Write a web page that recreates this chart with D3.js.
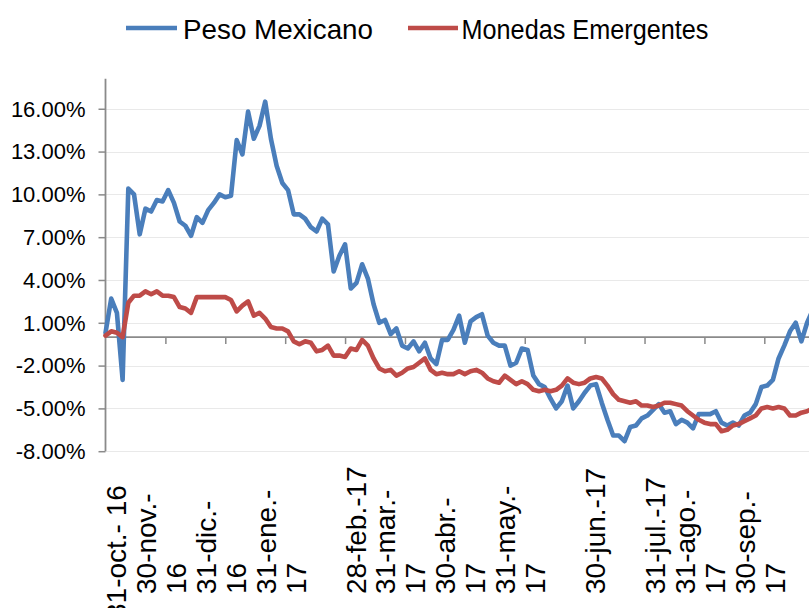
<!DOCTYPE html>
<html><head><meta charset="utf-8">
<script src="https://cdn.jsdelivr.net/npm/d3@7"></script>
<style>
body{margin:0;background:#fff}
svg{display:block}
text{font-family:"Liberation Sans",Arial,Helvetica,sans-serif;fill:#000}
</style>
</head><body>
<svg id="chart" width="809" height="608"></svg>
<script>
// ---- data (values in %, one value every 2 trading days starting 31-oct-16) ----
const seriesNames = ["Peso Mexicano", "Monedas Emergentes"];
const seriesColors = ["#4A7EBB", "#BE4B48"];
const dayStep = 2;
const pesoMexicano = [
  0.3, 2.7, 1.7, -3.0, 10.4, 10.0, 7.2, 9.0, 8.8, 9.6,
  9.5, 10.3, 9.4, 8.1, 7.8, 7.1, 8.4, 8.0, 8.9, 9.4,
  10.0, 9.8, 9.9, 13.8, 12.8, 15.8, 13.9, 14.8, 16.5, 13.9,
  12.0, 10.8, 10.3, 8.6, 8.6, 8.3, 7.7, 7.4, 8.3, 7.9,
  4.6, 5.7, 6.5, 3.4, 3.8, 5.1, 4.1, 2.3, 1.0, 1.2,
  0.2, 0.6, -0.6, -0.8, -0.3, -1.0, -0.4, -1.5, -1.9, -0.2,
  -0.2, 0.5, 1.5, -0.4, 1.1, 1.4, 1.6, 0.1, -0.4, -0.6,
  -0.6, -2.0, -1.8, -0.8, -0.9, -2.7, -3.3, -3.5, -4.3, -5.0,
  -4.5, -3.4, -5.0, -4.5, -3.9, -3.4, -3.3, -4.6, -5.8, -6.9,
  -6.9, -7.3, -6.3, -6.2, -5.7, -5.5, -5.1, -4.7, -5.3, -5.2,
  -6.1, -5.8, -6.0, -6.4, -5.4, -5.4, -5.4, -5.2, -6.0, -6.2,
  -6.0, -6.2, -5.5, -5.3, -4.7, -3.5, -3.4, -3.0, -1.5, -0.6,
  0.4, 1.0, -0.3, 1.0, 1.9
];
const monedasEmergentes = [
  0.1, 0.4, 0.3, 0.0, 2.4, 2.9, 2.9, 3.2, 3.0, 3.2,
  2.9, 2.9, 2.8, 2.1, 2.0, 1.7, 2.8, 2.8, 2.8, 2.8,
  2.8, 2.8, 2.6, 1.8, 2.2, 2.5, 1.5, 1.7, 1.3, 0.7,
  0.6, 0.6, 0.4, -0.3, -0.5, -0.3, -0.4, -1.0, -0.9, -0.6,
  -1.3, -1.3, -1.4, -0.8, -0.9, -0.2, -0.6, -1.5, -2.2, -2.4,
  -2.3, -2.7, -2.5, -2.2, -2.1, -1.8, -1.5, -2.3, -2.6, -2.5,
  -2.6, -2.6, -2.4, -2.6, -2.4, -2.3, -2.5, -2.9, -3.1, -3.2,
  -2.7, -3.0, -3.3, -3.1, -3.3, -3.7, -3.8, -3.7, -3.8, -3.7,
  -3.4, -2.9, -3.2, -3.3, -3.2, -2.9, -2.8, -2.9, -3.4, -4.0,
  -4.4, -4.5, -4.6, -4.5, -4.8, -4.8, -4.9, -4.8, -4.6, -4.6,
  -4.7, -4.8, -5.2, -5.5, -5.8, -6.0, -6.1, -6.1, -6.6, -6.5,
  -6.2, -6.1, -5.9, -5.7, -5.5, -5.0, -4.9, -5.0, -4.9, -5.0,
  -5.5, -5.5, -5.3, -5.2, -5.0
];
const yTickValues = [-8, -5, -2, 1, 4, 7, 10, 13, 16];
const tickEvery = 21; // trading days between category tick marks
const xLabels = [
  ["31-oct.- 16"], ["30-nov.-", "16"], ["31-dic.-", "16"], ["31-ene.-", "17"],
  ["28-feb.-17"], ["31-mar.-", "17"], ["30-abr.-", "17"], ["31-may.-", "17"],
  ["30-jun.-17"], ["31-jul.-17"], ["31-ago.-", "17"], ["30-sep.-", "17"]
];

// ---- layout ----
const W = 809, H = 608;
const svg = d3.select("#chart");
const pxPerDay = 2.852;
const x0 = 105.5;
const nDays = (pesoMexicano.length - 1) * dayStep;
const x = d3.scaleLinear().domain([0, nDays]).range([x0, x0 + nDays * pxPerDay]);
const y = d3.scaleLinear().domain([-8, 18.1]).range([451.2, 78.8]);

// gridlines
svg.append("g").selectAll("line").data(yTickValues).join("line")
  .attr("x1", x0).attr("x2", W)
  .attr("y1", d => Math.round(y(d)) + 0.5).attr("y2", d => Math.round(y(d)) + 0.5)
  .attr("stroke", "#e9e9e9").attr("stroke-width", 1.2);

// y axis
const yAxis = d3.axisLeft(y).tickValues(yTickValues).tickSize(7).tickPadding(13)
  .tickFormat(d => d.toFixed(2) + "%");
const gy = svg.append("g").attr("transform", `translate(${x0},0)`).call(yAxis);
gy.select(".domain").attr("stroke", "#8a8a8a").attr("stroke-width", 1.8)
  .attr("d", `M0,${y(18.1)}V${y(-8)}`);
gy.selectAll(".tick line").attr("stroke", "#8a8a8a").attr("stroke-width", 1.5);
gy.selectAll(".tick text").attr("font-size", 22).attr("fill", "#000")
  .attr("font-family", '"Liberation Sans",Arial,sans-serif').attr("dy", "0.33em");

// x axis at 0%
const xTickDays = d3.range(tickEvery, nDays + tickEvery, tickEvery);
const xAxis = d3.axisBottom(x).tickValues(xTickDays).tickSize(7).tickFormat("");
const gx = svg.append("g").attr("transform", `translate(0,${y(0)})`).call(xAxis);
gx.select(".domain").attr("stroke", "#8a8a8a").attr("stroke-width", 1.8)
  .attr("d", `M${x0},0H${W}`);
gx.selectAll(".tick line").attr("stroke", "#8a8a8a").attr("stroke-width", 1.5);

// lines
const line = d3.line().x((d, i) => x(i * dayStep)).y(d => y(d)).curve(d3.curveLinear);
[pesoMexicano, monedasEmergentes].forEach((vals, si) => {
  svg.append("path").datum(vals)
    .attr("d", line).attr("fill", "none")
    .attr("stroke", seriesColors[si]).attr("stroke-width", 4.6)
    .attr("stroke-linejoin", "round").attr("stroke-linecap", "round");
});

// category labels (rotated, wrapped)
const lab = svg.append("g");
xLabels.forEach((lines, j) => {
  const tx = x(j * tickEvery);
  const n = lines.length;
  const yStart = j === 0 ? 619 : 594;
  lines.forEach((t, i) => {
    const cx = tx + 10.5 - (n - 1 - i) * 30;
    lab.append("text")
      .attr("transform", `translate(${cx + 10},${yStart}) rotate(-90)`)
      .attr("font-size", 28).attr("text-anchor", "start")
      .text(t);
  });
});

// legend
const leg = svg.append("g");
const legItems = [
  {x1: 126, x2: 177, tx: 183, fs: 28, len: 190},
  {x1: 408, x2: 458, tx: 461.5, fs: 27, len: 247}
];
legItems.forEach((it, i) => {
  leg.append("line").attr("x1", it.x1).attr("x2", it.x2).attr("y1", 28).attr("y2", 28)
    .attr("stroke", seriesColors[i]).attr("stroke-width", 4.6);
  leg.append("text").attr("x", it.tx).attr("y", 38.5).attr("font-size", it.fs)
    .attr("textLength", it.len).attr("lengthAdjust", "spacingAndGlyphs")
    .text(seriesNames[i]);
});
</script>
</body></html>
